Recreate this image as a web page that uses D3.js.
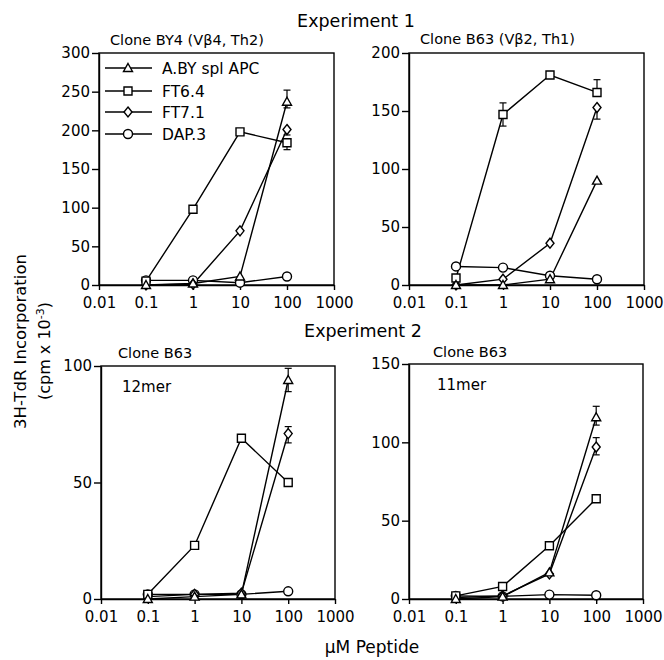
<!DOCTYPE html>
<html><head><meta charset="utf-8">
<script src="https://cdn.jsdelivr.net/npm/d3@7"></script>
<style>body{margin:0;background:#fff}svg{display:block}text{font-family:"DejaVu Sans",Verdana,sans-serif;fill:#000}</style>
</head><body>
<script>
const doses = [0.1, 1, 10, 100];
const xTicks = [0.01, 0.1, 1, 10, 100, 1000];
const xTickLabels = ["0.01", "0.1", "1", "10", "100", "1000"];
const seriesNames = ["A.BY spl APC", "FT6.4", "FT7.1", "DAP.3"];
const seriesShapes = ["triangle", "square", "diamond", "circle"];

const p1Title = "Clone BY4 (Vβ4, Th2)";
const p1Max = 300, p1Ticks = [0, 50, 100, 150, 200, 250, 300];
const p1ABY = [0, 2, 11, 237];
const p1FT64 = [5, 98, 198, 184];
const p1FT71 = [0, 1, 70, 201];
const p1DAP = [6, 6, 3, 11];
const p1Err = [[0, 100, 229, 252], [1, 100, 175, 184], [2, 100, 194, 201]];

const p2Title = "Clone B63 (Vβ2, Th1)";
const p2Max = 200, p2Ticks = [0, 50, 100, 150, 200];
const p2ABY = [0, 0, 5, 90];
const p2FT64 = [6, 147, 181, 166];
const p2FT71 = [0, 5, 36, 153];
const p2DAP = [16, 15, 8, 5];
const p2Err = [[1, 1, 137, 157], [1, 100, 166, 177], [2, 100, 143, 153]];

const p3Title = "Clone B63", p3Note = "12mer";
const p3Max = 100, p3Ticks = [0, 50, 100];
const p3ABY = [0, 1, 2, 94];
const p3FT64 = [2, 23, 69, 50];
const p3FT71 = [1, 2, 2.5, 71];
const p3DAP = [2, 2, 2, 3.3];
const p3Err = [[0, 100, 89, 99], [2, 100, 67, 74]];

const p4Title = "Clone B63", p4Note = "11mer";
const p4Max = 150, p4Ticks = [0, 50, 100, 150];
const p4ABY = [0, 1.5, 17, 116];
const p4FT64 = [2, 8, 34, 64];
const p4FT71 = [1, 2, 16, 97];
const p4DAP = [2, 1.7, 2.8, 2.4];
const p4Err = [[0, 100, 111, 123], [2, 100, 92, 103]];

const panels = [
  {title: p1Title, note: null, max: p1Max, ticks: p1Ticks, series: [p1ABY, p1FT64, p1FT71, p1DAP], err: p1Err, x0: 99, x1: 334, y0: 53, y1: 285, legend: true, tx: 110, ty: 45},
  {title: p2Title, note: null, max: p2Max, ticks: p2Ticks, series: [p2ABY, p2FT64, p2FT71, p2DAP], err: p2Err, x0: 409, x1: 644, y0: 53, y1: 285, legend: false, tx: 420, ty: 44},
  {title: p3Title, note: p3Note, max: p3Max, ticks: p3Ticks, series: [p3ABY, p3FT64, p3FT71, p3DAP], err: p3Err, x0: 101, x1: 335, y0: 366, y1: 599, legend: false, tx: 118, ty: 358, nx: 122, ny: 392},
  {title: p4Title, note: p4Note, max: p4Max, ticks: p4Ticks, series: [p4ABY, p4FT64, p4FT71, p4DAP], err: p4Err, x0: 409, x1: 643, y0: 364, y1: 599, legend: false, tx: 433, ty: 357, nx: 437, ny: 390}
];

const svg = d3.select("body").append("svg").attr("width", 664).attr("height", 660);

function shapePath(shape) {
  if (shape === "square") return "M-4,-4H4V4H-4Z";
  if (shape === "diamond") return "M0,-5L4,0L0,5L-4,0Z";
  if (shape === "triangle") return "M0,-4.5L4.5,3.5H-4.5Z";
  return null;
}
function drawMarker(g, shape, x, y) {
  if (shape === "circle") {
    g.append("circle").attr("cx", x).attr("cy", y).attr("r", 4.5)
      .attr("fill", "#fff").attr("stroke", "#000").attr("stroke-width", 1.4);
  } else {
    g.append("path").attr("d", shapePath(shape)).attr("transform", `translate(${x},${y})`)
      .attr("fill", "#fff").attr("stroke", "#000").attr("stroke-width", 1.4);
  }
}

panels.forEach(p => {
  const x = d3.scaleLog().domain([0.01, 1000]).range([p.x0, p.x1]);
  const y = d3.scaleLinear().domain([0, p.max]).range([p.y1, p.y0]);
  const g = svg.append("g");

  g.append("rect").attr("x", p.x0).attr("y", p.y0).attr("width", p.x1 - p.x0).attr("height", p.y1 - p.y0)
    .attr("fill", "none").attr("stroke", "#000").attr("stroke-width", 1.4);

  const xAxis = d3.axisBottom(x).tickValues(xTicks).tickFormat((d, i) => xTickLabels[i]).tickSize(5).tickSizeOuter(0);
  const xa = g.append("g").attr("transform", `translate(0,${p.y1})`).call(xAxis);
  xa.select(".domain").attr("stroke-width", 1.4);
  xa.selectAll(".tick line").attr("stroke-width", 1.4);
  xa.selectAll(".tick text").attr("font-size", 15).attr("font-family", "DejaVu Sans, Verdana, sans-serif").attr("y", 12).attr("dy", "0.73em");

  const yAxis = d3.axisLeft(y).tickValues(p.ticks).tickSize(7).tickSizeOuter(0);
  const ya = g.append("g").attr("transform", `translate(${p.x0},0)`).call(yAxis);
  ya.select(".domain").attr("stroke-width", 1.4);
  ya.selectAll(".tick line").attr("stroke-width", 1.4);
  ya.selectAll(".tick text").attr("font-size", 15).attr("font-family", "DejaVu Sans, Verdana, sans-serif").attr("x", -9);

  g.append("text").attr("x", p.tx).attr("y", p.ty).attr("font-size", 14.5).text(p.title);
  if (p.note) g.append("text").attr("x", p.nx).attr("y", p.ny).attr("font-size", 15).text(p.note);

  const line = d3.line().x((d, i) => x(doses[i])).y(d => y(d));
  p.err.forEach(e => {
    const ex = x(e[1]);
    g.append("line").attr("x1", ex).attr("x2", ex).attr("y1", y(e[2])).attr("y2", y(e[3])).attr("stroke", "#000").attr("stroke-width", 1.2);
    [e[2], e[3]].forEach(v => g.append("line").attr("x1", ex - 3.5).attr("x2", ex + 3.5).attr("y1", y(v)).attr("y2", y(v)).attr("stroke", "#000").attr("stroke-width", 1.2));
  });
  p.series.forEach(s => {
    g.append("path").datum(s).attr("d", line).attr("fill", "none").attr("stroke", "#000").attr("stroke-width", 1.4);
  });
  [3, 2, 1, 0].forEach(si => {
    p.series[si].forEach((v, i) => drawMarker(g, seriesShapes[si], x(doses[i]), y(v)));
  });

  if (p.legend) {
    const rows = [68, 91, 112, 134];
    seriesNames.forEach((n, i) => {
      g.append("line").attr("x1", 105).attr("x2", 152).attr("y1", rows[i]).attr("y2", rows[i]).attr("stroke", "#000").attr("stroke-width", 1.4);
      drawMarker(g, seriesShapes[i], 128, rows[i]);
      g.append("text").attr("x", 162).attr("y", rows[i] + 6).attr("font-size", 15.5).text(n);
    });
  }
});

svg.append("text").attr("x", 356).attr("y", 27).attr("text-anchor", "middle").attr("font-size", 17.5).text("Experiment 1");
svg.append("text").attr("x", 363).attr("y", 337).attr("text-anchor", "middle").attr("font-size", 17.5).text("Experiment 2");
svg.append("text").attr("x", 372).attr("y", 653).attr("text-anchor", "middle").attr("font-size", 17).text("μM Peptide");
svg.append("text").attr("transform", "translate(26,429) rotate(-90)").attr("font-size", 16.5).text("3H-TdR Incorporation");
const t2 = svg.append("text").attr("transform", "translate(50,400) rotate(-90)").attr("font-size", 16);
t2.append("tspan").text("(cpm x 10");
t2.append("tspan").attr("font-size", 11).attr("dy", -6).text("-3");
t2.append("tspan").attr("dy", 6).text(")");
</script>
</body></html>
